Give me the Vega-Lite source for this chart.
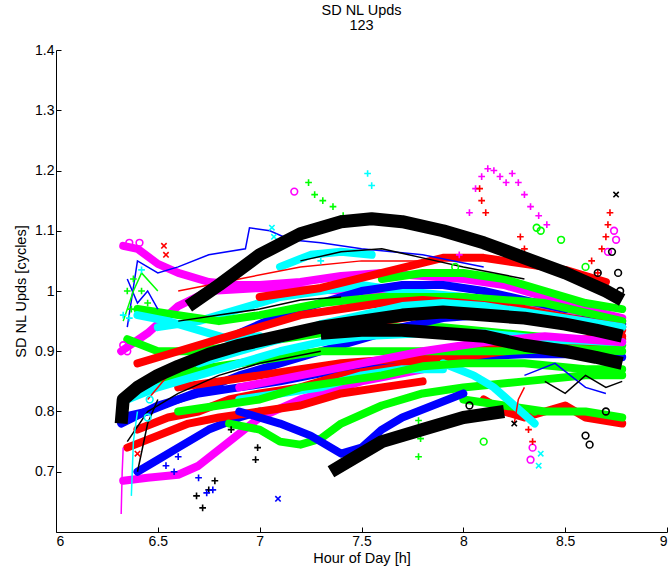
{
  "$schema": "https://vega.github.io/schema/vega-lite/v6.json",
  "width": 611,
  "height": 482,
  "autosize": {"type": "none"},
  "padding": {"left": 56, "top": 50, "right": 4, "bottom": 39},
  "background": "white",
  "title": {
    "text": ["SD NL Upds", "123"],
    "font": "Liberation Sans",
    "fontSize": 14.5,
    "fontWeight": "normal",
    "color": "black",
    "lineHeight": 15,
    "offset": 10,
    "anchor": "middle"
  },
  "config": {
    "view": {"stroke": null},
    "axis": {
      "grid": false,
      "domainColor": "black",
      "tickColor": "black",
      "labelColor": "black",
      "titleColor": "black",
      "labelFont": "Liberation Sans",
      "titleFont": "Liberation Sans",
      "labelFontSize": 14,
      "titleFontSize": 14.5,
      "titleFontWeight": "normal",
      "tickSize": -5,
      "labelPadding": 7
    }
  },
  "datasets": {
    "bands": [
      {"s": "T1", "grp": "g5", "x": 6.33, "y": 1.075}, {"s": "T1", "grp": "g5", "x": 6.4, "y": 1.07}, {"s": "T1", "grp": "g5", "x": 6.5, "y": 1.045}, {"s": "T1", "grp": "g5", "x": 6.6, "y": 1.03}, {"s": "T1", "grp": "g5", "x": 6.75, "y": 1.015}, {"s": "T1", "grp": "g5", "x": 6.9, "y": 1.01}, {"s": "T1", "grp": "g5", "x": 7.0, "y": 1.01}, {"s": "T1", "grp": "g5", "x": 7.2, "y": 1.015}, {"s": "T1", "grp": "g5", "x": 7.4, "y": 1.025}, {"s": "T1", "grp": "g5", "x": 7.6, "y": 1.03}, {"s": "T1", "grp": "g5", "x": 7.8, "y": 1.025}, {"s": "T1", "grp": "g5", "x": 8.0, "y": 1.02}, {"s": "T1", "grp": "g5", "x": 8.2, "y": 1.01}, {"s": "T1", "grp": "g5", "x": 8.4, "y": 0.99}, {"s": "T1", "grp": "g5", "x": 8.6, "y": 0.97}, {"s": "T1", "grp": "g5", "x": 8.78, "y": 0.955},
      {"s": "T2", "grp": "g5", "x": 6.32, "y": 0.9}, {"s": "T2", "grp": "g5", "x": 6.45, "y": 0.93}, {"s": "T2", "grp": "g5", "x": 6.6, "y": 0.975}, {"s": "T2", "grp": "g5", "x": 6.75, "y": 1.0}, {"s": "T2", "grp": "g5", "x": 7.0, "y": 1.005}, {"s": "T2", "grp": "g5", "x": 7.5, "y": 1.0}, {"s": "T2", "grp": "g5", "x": 8.0, "y": 0.99}, {"s": "T2", "grp": "g5", "x": 8.5, "y": 0.965}, {"s": "T2", "grp": "g5", "x": 8.78, "y": 0.95},
      {"s": "T3", "grp": "g5", "x": 6.33, "y": 0.685}, {"s": "T3", "grp": "g5", "x": 6.45, "y": 0.69}, {"s": "T3", "grp": "g5", "x": 6.6, "y": 0.695}, {"s": "T3", "grp": "g5", "x": 6.7, "y": 0.71}, {"s": "T3", "grp": "g5", "x": 6.85, "y": 0.75}, {"s": "T3", "grp": "g5", "x": 7.0, "y": 0.79}, {"s": "T3", "grp": "g5", "x": 7.2, "y": 0.82}, {"s": "T3", "grp": "g5", "x": 7.5, "y": 0.85}, {"s": "T3", "grp": "g5", "x": 7.8, "y": 0.87},
      {"s": "T29", "grp": "g2", "x": 6.35, "y": 0.92}, {"s": "T29", "grp": "g2", "x": 6.5, "y": 0.9}, {"s": "T29", "grp": "g2", "x": 6.7, "y": 0.9}, {"s": "T29", "grp": "g2", "x": 6.9, "y": 0.91}, {"s": "T29", "grp": "g2", "x": 7.1, "y": 0.92}, {"s": "T29", "grp": "g2", "x": 7.3, "y": 0.93}, {"s": "T29", "grp": "g2", "x": 7.6, "y": 0.94}, {"s": "T29", "grp": "g2", "x": 7.9, "y": 0.94}, {"s": "T29", "grp": "g2", "x": 8.2, "y": 0.93}, {"s": "T29", "grp": "g2", "x": 8.5, "y": 0.92}, {"s": "T29", "grp": "g2", "x": 8.78, "y": 0.91},
      {"s": "T4", "grp": "g4", "x": 6.5, "y": 0.94}, {"s": "T4", "grp": "g4", "x": 6.7, "y": 0.95}, {"s": "T4", "grp": "g4", "x": 6.9, "y": 0.97}, {"s": "T4", "grp": "g4", "x": 7.1, "y": 0.99}, {"s": "T4", "grp": "g4", "x": 7.3, "y": 1.0}, {"s": "T4", "grp": "g4", "x": 7.5, "y": 1.01}, {"s": "T4", "grp": "g4", "x": 7.7, "y": 1.0}, {"s": "T4", "grp": "g4", "x": 8.0, "y": 0.99}, {"s": "T4", "grp": "g4", "x": 8.3, "y": 0.97}, {"s": "T4", "grp": "g4", "x": 8.6, "y": 0.95}, {"s": "T4", "grp": "g4", "x": 8.78, "y": 0.94},
      {"s": "T34", "grp": "g4", "x": 7.1, "y": 1.04}, {"s": "T34", "grp": "g4", "x": 7.25, "y": 1.06}, {"s": "T34", "grp": "g4", "x": 7.4, "y": 1.065}, {"s": "T34", "grp": "g4", "x": 7.55, "y": 1.06},
      {"s": "T33", "grp": "g2", "x": 7.6, "y": 1.02}, {"s": "T33", "grp": "g2", "x": 7.8, "y": 1.03}, {"s": "T33", "grp": "g2", "x": 8.0, "y": 1.03}, {"s": "T33", "grp": "g2", "x": 8.2, "y": 1.02}, {"s": "T33", "grp": "g2", "x": 8.4, "y": 1.0}, {"s": "T33", "grp": "g2", "x": 8.6, "y": 0.98}, {"s": "T33", "grp": "g2", "x": 8.78, "y": 0.97},
      {"s": "T5", "grp": "g1", "x": 6.32, "y": 0.79}, {"s": "T5", "grp": "g1", "x": 6.45, "y": 0.8}, {"s": "T5", "grp": "g1", "x": 6.6, "y": 0.82}, {"s": "T5", "grp": "g1", "x": 6.75, "y": 0.84}, {"s": "T5", "grp": "g1", "x": 6.9, "y": 0.86}, {"s": "T5", "grp": "g1", "x": 7.1, "y": 0.88}, {"s": "T5", "grp": "g1", "x": 7.3, "y": 0.9}, {"s": "T5", "grp": "g1", "x": 7.5, "y": 0.92}, {"s": "T5", "grp": "g1", "x": 7.7, "y": 0.94}, {"s": "T5", "grp": "g1", "x": 7.9, "y": 0.955}, {"s": "T5", "grp": "g1", "x": 8.1, "y": 0.96}, {"s": "T5", "grp": "g1", "x": 8.3, "y": 0.96}, {"s": "T5", "grp": "g1", "x": 8.5, "y": 0.955}, {"s": "T5", "grp": "g1", "x": 8.78, "y": 0.945},
      {"s": "T6", "grp": "g1", "x": 6.9, "y": 0.93}, {"s": "T6", "grp": "g1", "x": 7.1, "y": 0.96}, {"s": "T6", "grp": "g1", "x": 7.3, "y": 0.98}, {"s": "T6", "grp": "g1", "x": 7.5, "y": 1.0}, {"s": "T6", "grp": "g1", "x": 7.7, "y": 1.01}, {"s": "T6", "grp": "g1", "x": 7.9, "y": 1.01}, {"s": "T6", "grp": "g1", "x": 8.1, "y": 1.0}, {"s": "T6", "grp": "g1", "x": 8.3, "y": 0.985}, {"s": "T6", "grp": "g1", "x": 8.5, "y": 0.97},
      {"s": "T7", "grp": "g1", "x": 6.32, "y": 0.78}, {"s": "T7", "grp": "g1", "x": 6.5, "y": 0.81}, {"s": "T7", "grp": "g1", "x": 6.7, "y": 0.83}, {"s": "T7", "grp": "g1", "x": 6.9, "y": 0.84}, {"s": "T7", "grp": "g1", "x": 7.1, "y": 0.85}, {"s": "T7", "grp": "g1", "x": 7.4, "y": 0.87}, {"s": "T7", "grp": "g1", "x": 7.7, "y": 0.88}, {"s": "T7", "grp": "g1", "x": 8.0, "y": 0.89}, {"s": "T7", "grp": "g1", "x": 8.3, "y": 0.895}, {"s": "T7", "grp": "g1", "x": 8.6, "y": 0.895}, {"s": "T7", "grp": "g1", "x": 8.78, "y": 0.89},
      {"s": "T31", "grp": "g1", "x": 6.4, "y": 0.7}, {"s": "T31", "grp": "g1", "x": 6.5, "y": 0.72}, {"s": "T31", "grp": "g1", "x": 6.6, "y": 0.74}, {"s": "T31", "grp": "g1", "x": 6.75, "y": 0.77}, {"s": "T31", "grp": "g1", "x": 6.9, "y": 0.79}, {"s": "T31", "grp": "g1", "x": 7.0, "y": 0.8},
      {"s": "T8", "grp": "g3", "x": 6.4, "y": 0.77}, {"s": "T8", "grp": "g3", "x": 6.55, "y": 0.79}, {"s": "T8", "grp": "g3", "x": 6.7, "y": 0.8}, {"s": "T8", "grp": "g3", "x": 6.85, "y": 0.82}, {"s": "T8", "grp": "g3", "x": 7.0, "y": 0.83}, {"s": "T8", "grp": "g3", "x": 7.2, "y": 0.84}, {"s": "T8", "grp": "g3", "x": 7.4, "y": 0.86}, {"s": "T8", "grp": "g3", "x": 7.6, "y": 0.87}, {"s": "T8", "grp": "g3", "x": 7.8, "y": 0.88}, {"s": "T8", "grp": "g3", "x": 8.0, "y": 0.89}, {"s": "T8", "grp": "g3", "x": 8.2, "y": 0.9}, {"s": "T8", "grp": "g3", "x": 8.4, "y": 0.91}, {"s": "T8", "grp": "g3", "x": 8.6, "y": 0.915}, {"s": "T8", "grp": "g3", "x": 8.78, "y": 0.92},
      {"s": "T30", "grp": "g3", "x": 6.35, "y": 0.74}, {"s": "T30", "grp": "g3", "x": 6.5, "y": 0.76}, {"s": "T30", "grp": "g3", "x": 6.65, "y": 0.78}, {"s": "T30", "grp": "g3", "x": 6.8, "y": 0.79}, {"s": "T30", "grp": "g3", "x": 7.0, "y": 0.8}, {"s": "T30", "grp": "g3", "x": 7.2, "y": 0.81}, {"s": "T30", "grp": "g3", "x": 7.4, "y": 0.83}, {"s": "T30", "grp": "g3", "x": 7.6, "y": 0.84}, {"s": "T30", "grp": "g3", "x": 7.8, "y": 0.85},
      {"s": "T9", "grp": "g3", "x": 6.6, "y": 0.84}, {"s": "T9", "grp": "g3", "x": 6.8, "y": 0.85}, {"s": "T9", "grp": "g3", "x": 7.0, "y": 0.86}, {"s": "T9", "grp": "g3", "x": 7.2, "y": 0.87}, {"s": "T9", "grp": "g3", "x": 7.4, "y": 0.88}, {"s": "T9", "grp": "g3", "x": 7.6, "y": 0.885}, {"s": "T9", "grp": "g3", "x": 7.8, "y": 0.89}, {"s": "T9", "grp": "g3", "x": 8.0, "y": 0.9}, {"s": "T9", "grp": "g3", "x": 8.3, "y": 0.91}, {"s": "T9", "grp": "g3", "x": 8.6, "y": 0.92}, {"s": "T9", "grp": "g3", "x": 8.78, "y": 0.925},
      {"s": "T10", "grp": "g3", "x": 7.0, "y": 0.99}, {"s": "T10", "grp": "g3", "x": 7.3, "y": 1.005}, {"s": "T10", "grp": "g3", "x": 7.6, "y": 1.03}, {"s": "T10", "grp": "g3", "x": 7.9, "y": 1.055}, {"s": "T10", "grp": "g3", "x": 8.1, "y": 1.055}, {"s": "T10", "grp": "g3", "x": 8.3, "y": 1.045}, {"s": "T10", "grp": "g3", "x": 8.5, "y": 1.035}, {"s": "T10", "grp": "g3", "x": 8.7, "y": 1.015},
      {"s": "T35", "grp": "g3", "x": 7.6, "y": 0.95}, {"s": "T35", "grp": "g3", "x": 7.8, "y": 0.96}, {"s": "T35", "grp": "g3", "x": 8.0, "y": 0.965}, {"s": "T35", "grp": "g3", "x": 8.2, "y": 0.96}, {"s": "T35", "grp": "g3", "x": 8.4, "y": 0.955}, {"s": "T35", "grp": "g3", "x": 8.6, "y": 0.945}, {"s": "T35", "grp": "g3", "x": 8.78, "y": 0.935},
      {"s": "T11", "grp": "g3", "x": 8.1, "y": 0.82}, {"s": "T11", "grp": "g3", "x": 8.2, "y": 0.8}, {"s": "T11", "grp": "g3", "x": 8.3, "y": 0.79}, {"s": "T11", "grp": "g3", "x": 8.4, "y": 0.8}, {"s": "T11", "grp": "g3", "x": 8.5, "y": 0.81}, {"s": "T11", "grp": "g3", "x": 8.6, "y": 0.79}, {"s": "T11", "grp": "g3", "x": 8.78, "y": 0.78},
      {"s": "T12", "grp": "g2", "x": 6.35, "y": 0.83}, {"s": "T12", "grp": "g2", "x": 6.5, "y": 0.85}, {"s": "T12", "grp": "g2", "x": 6.7, "y": 0.87}, {"s": "T12", "grp": "g2", "x": 6.9, "y": 0.88}, {"s": "T12", "grp": "g2", "x": 7.1, "y": 0.89}, {"s": "T12", "grp": "g2", "x": 7.3, "y": 0.9}, {"s": "T12", "grp": "g2", "x": 7.5, "y": 0.9}, {"s": "T12", "grp": "g2", "x": 7.7, "y": 0.9}, {"s": "T12", "grp": "g2", "x": 7.9, "y": 0.9}, {"s": "T12", "grp": "g2", "x": 8.2, "y": 0.9}, {"s": "T12", "grp": "g2", "x": 8.5, "y": 0.905}, {"s": "T12", "grp": "g2", "x": 8.78, "y": 0.9},
      {"s": "T13", "grp": "g2", "x": 6.85, "y": 0.78}, {"s": "T13", "grp": "g2", "x": 7.0, "y": 0.77}, {"s": "T13", "grp": "g2", "x": 7.1, "y": 0.75}, {"s": "T13", "grp": "g2", "x": 7.2, "y": 0.745}, {"s": "T13", "grp": "g2", "x": 7.3, "y": 0.755}, {"s": "T13", "grp": "g2", "x": 7.4, "y": 0.78}, {"s": "T13", "grp": "g2", "x": 7.6, "y": 0.81}, {"s": "T13", "grp": "g2", "x": 7.8, "y": 0.83}, {"s": "T13", "grp": "g2", "x": 8.0, "y": 0.84}, {"s": "T13", "grp": "g2", "x": 8.3, "y": 0.85}, {"s": "T13", "grp": "g2", "x": 8.6, "y": 0.86}, {"s": "T13", "grp": "g2", "x": 8.78, "y": 0.86},
      {"s": "T14", "grp": "g2", "x": 6.4, "y": 0.97}, {"s": "T14", "grp": "g2", "x": 6.6, "y": 0.96}, {"s": "T14", "grp": "g2", "x": 6.8, "y": 0.95}, {"s": "T14", "grp": "g2", "x": 7.0, "y": 0.96}, {"s": "T14", "grp": "g2", "x": 7.3, "y": 0.98}, {"s": "T14", "grp": "g2", "x": 7.6, "y": 0.99}, {"s": "T14", "grp": "g2", "x": 8.0, "y": 0.99}, {"s": "T14", "grp": "g2", "x": 8.4, "y": 0.98}, {"s": "T14", "grp": "g2", "x": 8.78, "y": 0.95},
      {"s": "T15", "grp": "g2", "x": 8.0, "y": 0.82}, {"s": "T15", "grp": "g2", "x": 8.2, "y": 0.81}, {"s": "T15", "grp": "g2", "x": 8.4, "y": 0.8}, {"s": "T15", "grp": "g2", "x": 8.6, "y": 0.8}, {"s": "T15", "grp": "g2", "x": 8.78, "y": 0.79},
      {"s": "T16", "grp": "g4", "x": 6.35, "y": 0.82}, {"s": "T16", "grp": "g4", "x": 6.5, "y": 0.84}, {"s": "T16", "grp": "g4", "x": 6.7, "y": 0.86}, {"s": "T16", "grp": "g4", "x": 6.9, "y": 0.88}, {"s": "T16", "grp": "g4", "x": 7.1, "y": 0.9}, {"s": "T16", "grp": "g4", "x": 7.3, "y": 0.915}, {"s": "T16", "grp": "g4", "x": 7.5, "y": 0.925}, {"s": "T16", "grp": "g4", "x": 7.8, "y": 0.93}, {"s": "T16", "grp": "g4", "x": 8.1, "y": 0.93}, {"s": "T16", "grp": "g4", "x": 8.4, "y": 0.92}, {"s": "T16", "grp": "g4", "x": 8.78, "y": 0.915},
      {"s": "T32", "grp": "g4", "x": 6.9, "y": 0.82}, {"s": "T32", "grp": "g4", "x": 7.1, "y": 0.83}, {"s": "T32", "grp": "g4", "x": 7.3, "y": 0.84}, {"s": "T32", "grp": "g4", "x": 7.5, "y": 0.86}, {"s": "T32", "grp": "g4", "x": 7.7, "y": 0.87}, {"s": "T32", "grp": "g4", "x": 7.9, "y": 0.87},
      {"s": "T17", "grp": "g4", "x": 6.4, "y": 0.96}, {"s": "T17", "grp": "g4", "x": 6.55, "y": 0.95}, {"s": "T17", "grp": "g4", "x": 6.7, "y": 0.935}, {"s": "T17", "grp": "g4", "x": 6.85, "y": 0.92}, {"s": "T17", "grp": "g4", "x": 7.0, "y": 0.925},
      {"s": "T18", "grp": "g4", "x": 7.9, "y": 0.88}, {"s": "T18", "grp": "g4", "x": 8.05, "y": 0.86}, {"s": "T18", "grp": "g4", "x": 8.15, "y": 0.84}, {"s": "T18", "grp": "g4", "x": 8.25, "y": 0.81}, {"s": "T18", "grp": "g4", "x": 8.35, "y": 0.78},
      {"s": "T24", "grp": "g2", "x": 6.6, "y": 0.8}, {"s": "T24", "grp": "g2", "x": 6.8, "y": 0.81}, {"s": "T24", "grp": "g2", "x": 7.0, "y": 0.82}, {"s": "T24", "grp": "g2", "x": 7.2, "y": 0.84}, {"s": "T24", "grp": "g2", "x": 7.4, "y": 0.85}, {"s": "T24", "grp": "g2", "x": 7.6, "y": 0.86}, {"s": "T24", "grp": "g2", "x": 7.8, "y": 0.875}, {"s": "T24", "grp": "g2", "x": 8.0, "y": 0.88}, {"s": "T24", "grp": "g2", "x": 8.3, "y": 0.88}, {"s": "T24", "grp": "g2", "x": 8.6, "y": 0.87}, {"s": "T24", "grp": "g2", "x": 8.78, "y": 0.87},
      {"s": "T25", "grp": "g3", "x": 6.4, "y": 0.88}, {"s": "T25", "grp": "g3", "x": 6.6, "y": 0.9}, {"s": "T25", "grp": "g3", "x": 6.8, "y": 0.92}, {"s": "T25", "grp": "g3", "x": 7.0, "y": 0.94}, {"s": "T25", "grp": "g3", "x": 7.2, "y": 0.96}, {"s": "T25", "grp": "g3", "x": 7.4, "y": 0.97}, {"s": "T25", "grp": "g3", "x": 7.6, "y": 0.98}, {"s": "T25", "grp": "g3", "x": 7.8, "y": 0.985}, {"s": "T25", "grp": "g3", "x": 8.0, "y": 0.98}, {"s": "T25", "grp": "g3", "x": 8.3, "y": 0.97}, {"s": "T25", "grp": "g3", "x": 8.6, "y": 0.95}, {"s": "T25", "grp": "g3", "x": 8.78, "y": 0.94},
      {"s": "T26", "grp": "g4", "x": 6.7, "y": 0.88}, {"s": "T26", "grp": "g4", "x": 6.9, "y": 0.9}, {"s": "T26", "grp": "g4", "x": 7.1, "y": 0.92}, {"s": "T26", "grp": "g4", "x": 7.3, "y": 0.945}, {"s": "T26", "grp": "g4", "x": 7.5, "y": 0.96}, {"s": "T26", "grp": "g4", "x": 7.7, "y": 0.975}, {"s": "T26", "grp": "g4", "x": 7.9, "y": 0.98}, {"s": "T26", "grp": "g4", "x": 8.1, "y": 0.975}, {"s": "T26", "grp": "g4", "x": 8.4, "y": 0.96}, {"s": "T26", "grp": "g4", "x": 8.78, "y": 0.94},
      {"s": "T28", "grp": "g5", "x": 6.9, "y": 0.84}, {"s": "T28", "grp": "g5", "x": 7.2, "y": 0.86}, {"s": "T28", "grp": "g5", "x": 7.5, "y": 0.88}, {"s": "T28", "grp": "g5", "x": 7.8, "y": 0.9}, {"s": "T28", "grp": "g5", "x": 8.1, "y": 0.915}, {"s": "T28", "grp": "g5", "x": 8.4, "y": 0.925}, {"s": "T28", "grp": "g5", "x": 8.78, "y": 0.915},
      {"s": "T19", "grp": "g1", "x": 6.9, "y": 0.8}, {"s": "T19", "grp": "g1", "x": 7.1, "y": 0.78}, {"s": "T19", "grp": "g1", "x": 7.25, "y": 0.76}, {"s": "T19", "grp": "g1", "x": 7.35, "y": 0.74}, {"s": "T19", "grp": "g1", "x": 7.4, "y": 0.73}, {"s": "T19", "grp": "g1", "x": 7.5, "y": 0.74}, {"s": "T19", "grp": "g1", "x": 7.6, "y": 0.77}, {"s": "T19", "grp": "g1", "x": 7.7, "y": 0.79}, {"s": "T19", "grp": "g1", "x": 7.85, "y": 0.81}, {"s": "T19", "grp": "g1", "x": 8.0, "y": 0.83},
      {"s": "T20", "grp": "g6", "x": 7.35, "y": 0.7}, {"s": "T20", "grp": "g6", "x": 7.45, "y": 0.72}, {"s": "T20", "grp": "g6", "x": 7.6, "y": 0.75}, {"s": "T20", "grp": "g6", "x": 7.8, "y": 0.77}, {"s": "T20", "grp": "g6", "x": 8.0, "y": 0.79}, {"s": "T20", "grp": "g6", "x": 8.2, "y": 0.8},
      {"s": "T21", "grp": "g6", "x": 6.32, "y": 0.78}, {"s": "T21", "grp": "g6", "x": 6.33, "y": 0.82}, {"s": "T21", "grp": "g6", "x": 6.4, "y": 0.84}, {"s": "T21", "grp": "g6", "x": 6.5, "y": 0.86}, {"s": "T21", "grp": "g6", "x": 6.6, "y": 0.875}, {"s": "T21", "grp": "g6", "x": 6.75, "y": 0.895}, {"s": "T21", "grp": "g6", "x": 6.9, "y": 0.91}, {"s": "T21", "grp": "g6", "x": 7.1, "y": 0.925}, {"s": "T21", "grp": "g6", "x": 7.3, "y": 0.94}, {"s": "T21", "grp": "g6", "x": 7.5, "y": 0.95}, {"s": "T21", "grp": "g6", "x": 7.7, "y": 0.96}, {"s": "T21", "grp": "g6", "x": 7.9, "y": 0.965}, {"s": "T21", "grp": "g6", "x": 8.1, "y": 0.96}, {"s": "T21", "grp": "g6", "x": 8.3, "y": 0.955}, {"s": "T21", "grp": "g6", "x": 8.5, "y": 0.945}, {"s": "T21", "grp": "g6", "x": 8.65, "y": 0.935}, {"s": "T21", "grp": "g6", "x": 8.78, "y": 0.925},
      {"s": "T22", "grp": "g6", "x": 6.65, "y": 0.975}, {"s": "T22", "grp": "g6", "x": 6.8, "y": 1.01}, {"s": "T22", "grp": "g6", "x": 7.0, "y": 1.06}, {"s": "T22", "grp": "g6", "x": 7.2, "y": 1.095}, {"s": "T22", "grp": "g6", "x": 7.4, "y": 1.115}, {"s": "T22", "grp": "g6", "x": 7.55, "y": 1.12}, {"s": "T22", "grp": "g6", "x": 7.7, "y": 1.115}, {"s": "T22", "grp": "g6", "x": 7.9, "y": 1.1}, {"s": "T22", "grp": "g6", "x": 8.1, "y": 1.08}, {"s": "T22", "grp": "g6", "x": 8.3, "y": 1.055}, {"s": "T22", "grp": "g6", "x": 8.5, "y": 1.03}, {"s": "T22", "grp": "g6", "x": 8.7, "y": 1.0}, {"s": "T22", "grp": "g6", "x": 8.78, "y": 0.985},
      {"s": "T23", "grp": "g6", "x": 7.3, "y": 0.93}, {"s": "T23", "grp": "g6", "x": 7.5, "y": 0.935}, {"s": "T23", "grp": "g6", "x": 7.7, "y": 0.935}, {"s": "T23", "grp": "g6", "x": 7.9, "y": 0.93}, {"s": "T23", "grp": "g6", "x": 8.1, "y": 0.925}, {"s": "T23", "grp": "g6", "x": 8.3, "y": 0.91}, {"s": "T23", "grp": "g6", "x": 8.5, "y": 0.9}, {"s": "T23", "grp": "g6", "x": 8.65, "y": 0.89}, {"s": "T23", "grp": "g6", "x": 8.78, "y": 0.88}
    ],
    "traces": [
      {"s": "L1", "grp": "g1", "x": 6.35, "y": 0.94}, {"s": "L1", "grp": "g1", "x": 6.4, "y": 1.05}, {"s": "L1", "grp": "g1", "x": 6.5, "y": 1.03}, {"s": "L1", "grp": "g1", "x": 6.6, "y": 1.04}, {"s": "L1", "grp": "g1", "x": 6.75, "y": 1.06}, {"s": "L1", "grp": "g1", "x": 6.93, "y": 1.07}, {"s": "L1", "grp": "g1", "x": 6.95, "y": 1.105}, {"s": "L1", "grp": "g1", "x": 7.05, "y": 1.1}, {"s": "L1", "grp": "g1", "x": 7.15, "y": 1.085}, {"s": "L1", "grp": "g1", "x": 7.3, "y": 1.08}, {"s": "L1", "grp": "g1", "x": 7.5, "y": 1.07}, {"s": "L1", "grp": "g1", "x": 7.8, "y": 1.06}, {"s": "L1", "grp": "g1", "x": 8.1, "y": 1.04},
      {"s": "L2", "grp": "g6", "x": 6.35, "y": 0.75}, {"s": "L2", "grp": "g6", "x": 6.45, "y": 0.8}, {"s": "L2", "grp": "g6", "x": 6.6, "y": 0.83}, {"s": "L2", "grp": "g6", "x": 6.8, "y": 0.86}, {"s": "L2", "grp": "g6", "x": 7.0, "y": 0.88}, {"s": "L2", "grp": "g6", "x": 7.3, "y": 0.9},
      {"s": "L3", "grp": "g6", "x": 7.2, "y": 1.05}, {"s": "L3", "grp": "g6", "x": 7.4, "y": 1.065}, {"s": "L3", "grp": "g6", "x": 7.6, "y": 1.07}, {"s": "L3", "grp": "g6", "x": 7.8, "y": 1.055}, {"s": "L3", "grp": "g6", "x": 8.0, "y": 1.04}, {"s": "L3", "grp": "g6", "x": 8.3, "y": 1.02},
      {"s": "L4", "grp": "g3", "x": 6.6, "y": 1.0}, {"s": "L4", "grp": "g3", "x": 6.9, "y": 1.02}, {"s": "L4", "grp": "g3", "x": 7.2, "y": 1.04}, {"s": "L4", "grp": "g3", "x": 7.5, "y": 1.05}, {"s": "L4", "grp": "g3", "x": 7.8, "y": 1.05},
      {"s": "L5", "grp": "g5", "x": 6.32, "y": 0.63}, {"s": "L5", "grp": "g5", "x": 6.325, "y": 0.7}, {"s": "L5", "grp": "g5", "x": 6.33, "y": 0.74},
      {"s": "L6", "grp": "g4", "x": 6.37, "y": 0.66}, {"s": "L6", "grp": "g4", "x": 6.38, "y": 0.75}, {"s": "L6", "grp": "g4", "x": 6.4, "y": 0.8},
      {"s": "L7", "grp": "g6", "x": 6.4, "y": 0.7}, {"s": "L7", "grp": "g6", "x": 6.45, "y": 0.78}, {"s": "L7", "grp": "g6", "x": 6.5, "y": 0.82},
      {"s": "L8", "grp": "g1", "x": 8.3, "y": 0.86}, {"s": "L8", "grp": "g1", "x": 8.45, "y": 0.88}, {"s": "L8", "grp": "g1", "x": 8.6, "y": 0.84}, {"s": "L8", "grp": "g1", "x": 8.7, "y": 0.83},
      {"s": "L9", "grp": "g3", "x": 8.25, "y": 0.78}, {"s": "L9", "grp": "g3", "x": 8.27, "y": 0.82}, {"s": "L9", "grp": "g3", "x": 8.3, "y": 0.84},
      {"s": "L10", "grp": "g6", "x": 6.6, "y": 0.95}, {"s": "L10", "grp": "g6", "x": 6.8, "y": 0.96}, {"s": "L10", "grp": "g6", "x": 7.0, "y": 0.97}, {"s": "L10", "grp": "g6", "x": 7.2, "y": 0.985}, {"s": "L10", "grp": "g6", "x": 7.4, "y": 0.99},
      {"s": "L11", "grp": "g3", "x": 6.45, "y": 0.82}, {"s": "L11", "grp": "g3", "x": 6.55, "y": 0.86}, {"s": "L11", "grp": "g3", "x": 6.7, "y": 0.88},
      {"s": "L12", "grp": "g1", "x": 6.35, "y": 1.02}, {"s": "L12", "grp": "g1", "x": 6.4, "y": 0.98}, {"s": "L12", "grp": "g1", "x": 6.45, "y": 1.0}, {"s": "L12", "grp": "g1", "x": 6.5, "y": 0.97},
      {"s": "L13", "grp": "g2", "x": 6.33, "y": 0.95}, {"s": "L13", "grp": "g2", "x": 6.38, "y": 1.0}, {"s": "L13", "grp": "g2", "x": 6.42, "y": 1.03}, {"s": "L13", "grp": "g2", "x": 6.5, "y": 1.0},
      {"s": "L14", "grp": "g6", "x": 8.4, "y": 0.85}, {"s": "L14", "grp": "g6", "x": 8.5, "y": 0.83}, {"s": "L14", "grp": "g6", "x": 8.6, "y": 0.86}, {"s": "L14", "grp": "g6", "x": 8.7, "y": 0.84}, {"s": "L14", "grp": "g6", "x": 8.78, "y": 0.85}
    ],
    "marks": [
      {"grp": "g5", "kind": "plus", "x": 7.98, "y": 1.06}, {"grp": "g5", "kind": "plus", "x": 8.0, "y": 1.095}, {"grp": "g5", "kind": "plus", "x": 8.03, "y": 1.13}, {"grp": "g5", "kind": "plus", "x": 8.06, "y": 1.17}, {"grp": "g5", "kind": "plus", "x": 8.09, "y": 1.19}, {"grp": "g5", "kind": "plus", "x": 8.12, "y": 1.203}, {"grp": "g5", "kind": "plus", "x": 8.15, "y": 1.2}, {"grp": "g5", "kind": "plus", "x": 8.18, "y": 1.19}, {"grp": "g5", "kind": "plus", "x": 8.21, "y": 1.18}, {"grp": "g5", "kind": "plus", "x": 8.24, "y": 1.195}, {"grp": "g5", "kind": "plus", "x": 8.27, "y": 1.18}, {"grp": "g5", "kind": "plus", "x": 8.3, "y": 1.16}, {"grp": "g5", "kind": "plus", "x": 8.33, "y": 1.14}, {"grp": "g5", "kind": "plus", "x": 8.37, "y": 1.125}, {"grp": "g5", "kind": "plus", "x": 8.41, "y": 1.11},
      {"grp": "g2", "kind": "plus", "x": 7.24, "y": 1.18}, {"grp": "g2", "kind": "plus", "x": 7.27, "y": 1.16}, {"grp": "g2", "kind": "plus", "x": 7.31, "y": 1.15}, {"grp": "g2", "kind": "plus", "x": 7.36, "y": 1.14}, {"grp": "g2", "kind": "plus", "x": 7.41, "y": 1.125}, {"grp": "g2", "kind": "plus", "x": 7.46, "y": 1.115},
      {"grp": "g2", "kind": "plus", "x": 6.35, "y": 1.0}, {"grp": "g2", "kind": "plus", "x": 6.38, "y": 1.02}, {"grp": "g2", "kind": "plus", "x": 6.42, "y": 1.0}, {"grp": "g2", "kind": "plus", "x": 6.45, "y": 0.98}, {"grp": "g2", "kind": "plus", "x": 6.37, "y": 0.97},
      {"grp": "g4", "kind": "plus", "x": 6.33, "y": 0.96}, {"grp": "g4", "kind": "plus", "x": 6.36, "y": 0.955},
      {"grp": "g4", "kind": "plus", "x": 7.53, "y": 1.195}, {"grp": "g4", "kind": "plus", "x": 7.55, "y": 1.175}, {"grp": "g4", "kind": "cross", "x": 7.06, "y": 1.105}, {"grp": "g4", "kind": "cross", "x": 7.07, "y": 1.09}, {"grp": "g4", "kind": "plus", "x": 6.42, "y": 1.035}, {"grp": "g4", "kind": "plus", "x": 7.3, "y": 1.05},
      {"grp": "g5", "kind": "ring", "x": 7.17, "y": 1.165},
      {"grp": "g3", "kind": "plus", "x": 8.08, "y": 1.17}, {"grp": "g3", "kind": "plus", "x": 8.09, "y": 1.15}, {"grp": "g3", "kind": "plus", "x": 8.11, "y": 1.13}, {"grp": "g3", "kind": "plus", "x": 8.28, "y": 1.09}, {"grp": "g3", "kind": "plus", "x": 8.3, "y": 1.07},
      {"grp": "g3", "kind": "plus", "x": 8.72, "y": 1.13}, {"grp": "g3", "kind": "plus", "x": 8.71, "y": 1.11}, {"grp": "g3", "kind": "plus", "x": 8.7, "y": 1.09}, {"grp": "g3", "kind": "plus", "x": 8.68, "y": 1.07}, {"grp": "g3", "kind": "plus", "x": 8.63, "y": 1.05}, {"grp": "g3", "kind": "plus", "x": 8.66, "y": 1.03},
      {"grp": "g6", "kind": "cross", "x": 8.75, "y": 1.16},
      {"grp": "g5", "kind": "ring", "x": 8.74, "y": 1.1}, {"grp": "g5", "kind": "ring", "x": 8.75, "y": 1.085}, {"grp": "g5", "kind": "ring", "x": 8.71, "y": 1.065},
      {"grp": "g2", "kind": "ring", "x": 8.48, "y": 1.085}, {"grp": "g2", "kind": "ring", "x": 8.6, "y": 1.04}, {"grp": "g2", "kind": "ring", "x": 8.36, "y": 1.105}, {"grp": "g2", "kind": "ring", "x": 8.38, "y": 1.1}, {"grp": "g2", "kind": "ring", "x": 7.96, "y": 1.04},
      {"grp": "g6", "kind": "ring", "x": 8.73, "y": 1.065}, {"grp": "g6", "kind": "ring", "x": 8.76, "y": 1.03}, {"grp": "g6", "kind": "ring", "x": 8.77, "y": 1.0}, {"grp": "g6", "kind": "ring", "x": 8.66, "y": 1.03}, {"grp": "g6", "kind": "ring", "x": 8.6, "y": 0.76}, {"grp": "g6", "kind": "ring", "x": 8.62, "y": 0.745}, {"grp": "g6", "kind": "ring", "x": 8.7, "y": 0.8},
      {"grp": "g3", "kind": "cross", "x": 6.53, "y": 1.075}, {"grp": "g3", "kind": "cross", "x": 6.54, "y": 1.06}, {"grp": "g3", "kind": "cross", "x": 6.4, "y": 0.73},
      {"grp": "g5", "kind": "ring", "x": 6.36, "y": 1.08}, {"grp": "g5", "kind": "ring", "x": 6.41, "y": 1.08}, {"grp": "g5", "kind": "ring", "x": 6.33, "y": 0.91}, {"grp": "g5", "kind": "ring", "x": 6.35, "y": 0.9},
      {"grp": "g6", "kind": "plus", "x": 6.69, "y": 0.66}, {"grp": "g6", "kind": "plus", "x": 6.72, "y": 0.64}, {"grp": "g6", "kind": "plus", "x": 6.75, "y": 0.67}, {"grp": "g6", "kind": "plus", "x": 6.78, "y": 0.685}, {"grp": "g6", "kind": "plus", "x": 6.98, "y": 0.72}, {"grp": "g6", "kind": "plus", "x": 6.99, "y": 0.74}, {"grp": "g6", "kind": "plus", "x": 6.86, "y": 0.77},
      {"grp": "g1", "kind": "plus", "x": 6.7, "y": 0.69}, {"grp": "g1", "kind": "plus", "x": 6.74, "y": 0.665}, {"grp": "g1", "kind": "plus", "x": 6.77, "y": 0.67}, {"grp": "g1", "kind": "plus", "x": 6.6, "y": 0.725}, {"grp": "g1", "kind": "plus", "x": 6.54, "y": 0.71}, {"grp": "g1", "kind": "plus", "x": 6.58, "y": 0.7},
      {"grp": "g1", "kind": "cross", "x": 7.09, "y": 0.655},
      {"grp": "g2", "kind": "plus", "x": 7.78, "y": 0.725}, {"grp": "g2", "kind": "plus", "x": 7.79, "y": 0.755}, {"grp": "g2", "kind": "plus", "x": 7.78, "y": 0.785},
      {"grp": "g2", "kind": "ring", "x": 8.1, "y": 0.75}, {"grp": "g2", "kind": "ring", "x": 8.35, "y": 0.8},
      {"grp": "g5", "kind": "ring", "x": 8.33, "y": 0.72}, {"grp": "g5", "kind": "ring", "x": 8.34, "y": 0.74},
      {"grp": "g4", "kind": "cross", "x": 8.37, "y": 0.71}, {"grp": "g4", "kind": "cross", "x": 8.38, "y": 0.73},
      {"grp": "g3", "kind": "plus", "x": 8.34, "y": 0.75}, {"grp": "g3", "kind": "plus", "x": 8.32, "y": 0.77},
      {"grp": "g4", "kind": "ring", "x": 6.46, "y": 0.82}, {"grp": "g4", "kind": "ring", "x": 6.45, "y": 0.79},
      {"grp": "g6", "kind": "cross", "x": 8.25, "y": 0.78}, {"grp": "g6", "kind": "ring", "x": 8.03, "y": 0.81}
    ]
  },
  "layer": [
    {
      "data": {"name": "bands"},
      "transform": [{"filter": "datum.grp != 'g6'"}],
      "mark": {"type": "line", "strokeWidth": 8, "strokeJoin": "round", "strokeCap": "round"},
      "encoding": {
        "x": {"field": "x", "type": "quantitative", "scale": {"domain": [6, 9], "nice": false}, "axis": {"title": "Hour of Day [h]", "values": [6, 6.5, 7, 7.5, 8, 8.5, 9], "format": "~g", "titlePadding": 3}},
        "y": {"field": "y", "type": "quantitative", "scale": {"domain": [0.6, 1.4], "nice": false, "zero": false}, "axis": {"title": "SD NL Upds [cycles]", "values": [0.7, 0.8, 0.9, 1, 1.1, 1.2, 1.3, 1.4], "format": "~g", "titlePadding": 6}},
        "detail": {"field": "s"},
        "color": {"field": "grp", "type": "nominal", "scale": {"domain": ["g1", "g2", "g3", "g4", "g5", "g6"], "range": ["#0000ff", "#00ff00", "#ff0000", "#00ffff", "#ff00ff", "#000000"]}, "legend": null}
      }
    },
    {
      "data": {"name": "traces"},
      "mark": {"type": "line", "strokeWidth": 1.5},
      "encoding": {
        "x": {"field": "x", "type": "quantitative"},
        "y": {"field": "y", "type": "quantitative"},
        "detail": {"field": "s"},
        "color": {"field": "grp", "type": "nominal", "legend": null}
      }
    },
    {
      "data": {"name": "marks"},
      "mark": {"type": "point", "filled": false, "strokeWidth": 1.6, "size": 45, "opacity": 1},
      "encoding": {
        "x": {"field": "x", "type": "quantitative"},
        "y": {"field": "y", "type": "quantitative"},
        "color": {"field": "grp", "type": "nominal", "legend": null},
        "shape": {"field": "kind", "type": "nominal", "scale": {"domain": ["plus", "cross", "ring"], "range": ["M-1,0L1,0M0,-1L0,1", "M-0.8,-0.8L0.8,0.8M-0.8,0.8L0.8,-0.8", "circle"]}, "legend": null}
      }
    },
    {
      "data": {"name": "bands"},
      "transform": [{"filter": "datum.grp == 'g6'"}],
      "mark": {"type": "line", "strokeWidth": 13, "strokeJoin": "round", "strokeCap": "butt"},
      "encoding": {
        "x": {"field": "x", "type": "quantitative"},
        "y": {"field": "y", "type": "quantitative"},
        "detail": {"field": "s"},
        "color": {"field": "grp", "type": "nominal", "legend": null}
      }
    }
  ]
}
